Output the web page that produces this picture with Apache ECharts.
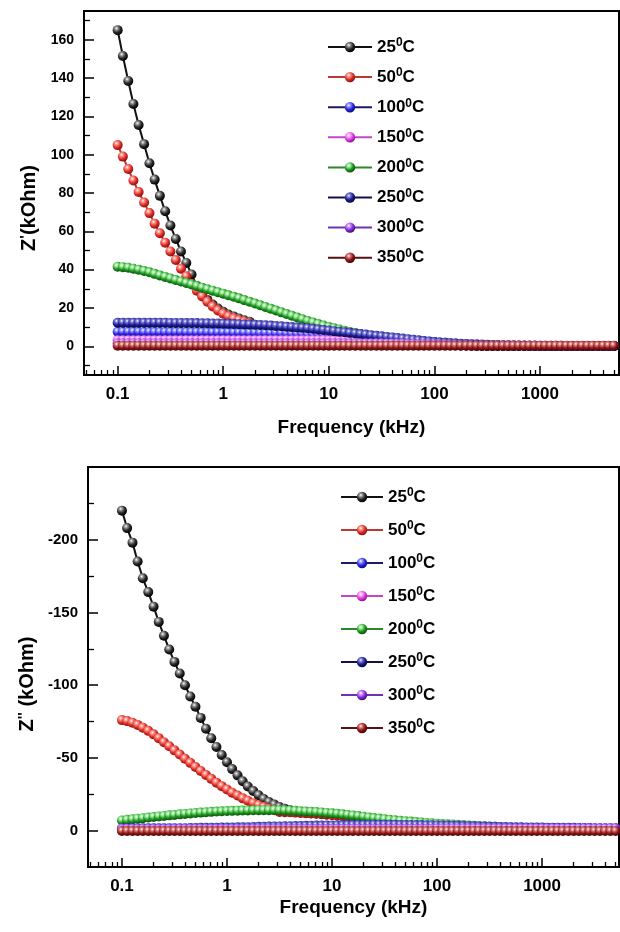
<!DOCTYPE html>
<html>
<head>
<meta charset="utf-8">
<script src="https://cdn.jsdelivr.net/npm/echarts@6/dist/echarts.min.js"></script>
<style>html,body{margin:0;padding:0;background:#fff}#c{width:620px;height:932px}</style>
</head>
<body>
<div id="c"></div>
<script>
// ---------- DATA ----------
const temps = ['25°C','50°C','100°C','150°C','200°C','250°C','300°C','350°C'];
const freq = [
0.1,0.112,0.126,0.141,0.158,0.178,0.2,0.224,0.251,0.282,0.316,0.355,0.398,0.447,0.501,0.562,0.631,0.708,0.794,0.891,
1,1.12,1.26,1.41,1.58,1.78,2,2.24,2.51,2.82,3.16,3.55,3.98,4.47,5.01,5.62,6.31,7.08,7.94,8.91,
10,11.2,12.6,14.1,15.8,17.8,20,22.4,25.1,28.2,31.6,35.5,39.8,44.7,50.1,56.2,63.1,70.8,79.4,89.1,
100,112,126,141,158,178,200,224,251,282,316,355,398,447,501,562,631,708,794,891,
1000,1120,1260,1410,1580,1780,2000,2240,2510,2820,3160,3550,3980,4470,5010];

// Z' (kOhm)
const zr25 = [165,151.5,138.5,126.5,115.5,105.5,95.5,87,78.5,70.5,
63,56,49.5,43.5,37.5,31.5,27.5,24.2,21.8,19.7,
18,16.6,15.5,14.5,13.6,12.8,10.7,10.6,10.5,10.3,
10.1,9.9,9.7,9.5,9.3,9.1,8.9,8.6,8.3,8,
7.7,7.4,7.1,6.8,6.5,6.2,5.9,5.6,5.3,5,
4.7,4.4,4.1,3.8,3.5,3.2,2.9,2.6,2.3,2,
1.7,1.5,1.3,1.1,0.9,0.7,0.5,0.4,0.3,0.2,
0.1,0.1,0.1,0.1,0.1,0.1,0.1,0.1,0.1,0.1,
0.1,0.1,0.1,0.1,0.1,0.1,0.1,0.1,0.1,0.1,0.1,0.1,0.1,0.1,0.1];
const zr50 = [105,99,92.5,86.5,80.5,75,69.5,64,59,54,
49.5,45,40.5,36.5,32.5,29,26,23.2,20.8,18.7,
17,15.6,14.5,13.6,12.8,12,10.4,10.3,10.2,10,
9.8,9.6,9.4,9.2,9,8.8,8.6,8.3,8,7.7,
7.4,7.1,6.8,6.5,6.2,5.9,5.6,5.3,5,4.7,
4.4,4.1,3.8,3.5,3.2,2.9,2.6,2.3,2,1.7,
1.4,1.2,1,0.8,0.6,0.5,0.4,0.3,0.2,0.2,
0.1,0.1,0.1,0.1,0.1,0.1,0.1,0.1,0.1,0.1,
0.1,0.1,0.1,0.1,0.1,0.1,0.1,0.1,0.1,0.1,0.1,0.1,0.1,0.1,0.1];
const zr100 = [7.6,7.6,7.6,7.6,7.6,7.5,7.5,7.5,7.5,7.5,
7.5,7.5,7.5,7.4,7.4,7.4,7.4,7.4,7.3,7.3,
7.3,7.3,7.2,7.2,7.2,7.1,7.1,7,7,6.9,
6.9,6.8,6.7,6.6,6.5,6.4,6.3,6.2,6.1,6,
5.9,5.8,5.6,5.5,5.3,5.2,5,4.8,4.6,4.4,
4.2,4,3.8,3.6,3.4,3.2,3,2.8,2.6,2.4,
2.2,2,1.8,1.6,1.5,1.3,1.2,1.1,1,0.9,
0.8,0.7,0.6,0.55,0.5,0.45,0.4,0.35,0.3,0.3,
0.25,0.25,0.25,0.25,0.25,0.2,0.2,0.2,0.2,0.2,0.2,0.2,0.2,0.2,0.2];
const zr150 = [3.2,3.2,3.2,3.2,3.2,3.2,3.2,3.2,3.2,3.2,
3.2,3.2,3.2,3.2,3.2,3.2,3.2,3.2,3.2,3.2,
3.2,3.2,3.2,3.2,3.2,3.2,3.2,3.2,3.2,3.2,
3.2,3.2,3.2,3.2,3.2,3.2,3.2,3.2,3.2,3.2,
3.1,3.1,3,3,2.9,2.9,2.8,2.7,2.6,2.5,
2.4,2.3,2.2,2.1,2,1.9,1.8,1.7,1.6,1.5,
1.4,1.3,1.2,1.1,1,0.9,0.8,0.7,0.6,0.55,
0.5,0.45,0.4,0.35,0.3,0.3,0.25,0.25,0.2,0.2,
0.2,0.2,0.2,0.2,0.2,0.2,0.2,0.2,0.2,0.2,0.2,0.2,0.2,0.2,0.2];
const zr200 = [41.5,41.3,41,40.5,40,39.3,38.6,37.8,37,36.2,
35.4,34.6,33.8,33,32.2,31.4,30.6,29.8,29,28.2,
27.4,26.6,25.8,25,24.1,23.2,22.3,21.4,20.5,19.6,
18.7,17.7,16.8,15.9,15,14.1,13.2,12.4,11.6,10.8,
10.1,9.4,8.7,8.1,7.5,6.9,6.3,5.8,5.3,4.9,
4.5,4.1,3.8,3.5,3.2,2.9,2.6,2.3,2.1,1.9,
1.7,1.5,1.3,1.1,1,0.9,0.8,0.7,0.6,0.5,
0.45,0.4,0.35,0.3,0.3,0.25,0.25,0.25,0.25,0.25,
0.2,0.2,0.2,0.2,0.2,0.2,0.2,0.2,0.2,0.2,0.2,0.2,0.2,0.2,0.2];
const zr250 = [12.3,12.3,12.3,12.3,12.3,12.3,12.3,12.3,12.3,12.3,
12.2,12.2,12.2,12.1,12.1,12.1,12,12,11.9,11.9,
11.8,11.7,11.6,11.5,11.4,11.3,11.2,11.1,11,10.8,
10.6,10.4,10.2,10,9.8,9.6,9.4,9.1,8.8,8.5,
8.2,7.9,7.6,7.3,7,6.7,6.4,6.1,5.8,5.5,
5.2,4.9,4.6,4.3,4,3.7,3.4,3.1,2.8,2.5,
2.2,2,1.8,1.6,1.4,1.2,1,0.9,0.8,0.7,
0.6,0.55,0.5,0.45,0.4,0.35,0.3,0.3,0.25,0.25,
0.2,0.2,0.2,0.2,0.2,0.2,0.2,0.2,0.2,0.2,0.2,0.2,0.2,0.2,0.2];
const zr300 = [1.6,1.6,1.6,1.6,1.6,1.6,1.6,1.6,1.6,1.6,
1.6,1.6,1.6,1.6,1.6,1.6,1.6,1.6,1.6,1.6,
1.6,1.6,1.6,1.6,1.6,1.6,1.6,1.6,1.6,1.6,
1.6,1.6,1.6,1.6,1.6,1.6,1.6,1.6,1.6,1.6,
1.6,1.6,1.6,1.6,1.6,1.6,1.6,1.6,1.6,1.6,
1.6,1.5,1.5,1.4,1.4,1.3,1.3,1.2,1.1,1,
0.9,0.8,0.7,0.6,0.5,0.45,0.4,0.35,0.3,0.3,
0.25,0.25,0.25,0.25,0.25,0.25,0.25,0.25,0.25,0.25,
0.2,0.2,0.2,0.2,0.2,0.2,0.2,0.2,0.2,0.2,0.2,0.2,0.2,0.2,0.2];
const zr350 = [0.3,0.3,0.3,0.3,0.3,0.3,0.3,0.3,0.3,0.3,
0.3,0.3,0.3,0.3,0.3,0.3,0.3,0.3,0.3,0.3,
0.3,0.3,0.3,0.3,0.3,0.3,0.3,0.3,0.3,0.3,
0.3,0.3,0.3,0.3,0.3,0.3,0.3,0.3,0.3,0.3,
0.3,0.3,0.3,0.3,0.3,0.3,0.3,0.3,0.3,0.3,
0.3,0.3,0.3,0.3,0.3,0.3,0.3,0.3,0.3,0.3,
0.3,0.3,0.3,0.3,0.3,0.3,0.3,0.3,0.3,0.3,
0.3,0.3,0.3,0.3,0.3,0.3,0.3,0.3,0.3,0.3,
0.3,0.3,0.3,0.3,0.3,0.3,0.3,0.3,0.3,0.3,0.3,0.3,0.3,0.3,0.3];

// Z'' (kOhm)
const zi25 = [-220,-208,-198,-185,-173.5,-164,-154,-143.5,-134,-124.5,
-116,-108,-100,-92.2,-85.2,-77.5,-70,-63.5,-57.5,-52,
-47,-42.3,-38,-34,-30.4,-27.2,-24.3,-21.8,-19.7,-17.9,
-16.3,-15,-14,-13.3,-12.7,-12.2,-12,-11.8,-11.5,-11.2,
-10.9,-10.6,-10.2,-9.8,-9.4,-9,-8.6,-8.1,-7.7,-7.3,
-6.9,-6.5,-6.1,-5.8,-5.5,-5.2,-4.9,-4.6,-4.3,-4,
-3.8,-3.6,-3.4,-3.2,-3,-2.8,-2.6,-2.4,-2.2,-2,
-1.9,-1.8,-1.7,-1.6,-1.5,-1.4,-1.3,-1.2,-1.1,-1,
-1,-0.9,-0.9,-0.8,-0.8,-0.8,-0.7,-0.7,-0.7,-0.6,-0.6,-0.6,-0.5,-0.5,-0.5];
const zi50 = [-76,-75.3,-74.2,-72.7,-70.8,-68.6,-66.2,-63.6,-60.8,-58,
-55.2,-52.3,-49.4,-46.6,-43.8,-41,-38.3,-35.6,-33,-30.6,
-28.3,-26.1,-24.1,-22.2,-20.5,-18.9,-17.5,-16.2,-15.1,-14.2,
-12.8,-12.7,-12.6,-12.4,-12.2,-12,-11.8,-11.6,-11.3,-11,
-10.7,-10.4,-10,-9.6,-9.2,-8.8,-8.4,-7.9,-7.5,-7.1,
-6.7,-6.3,-5.9,-5.6,-5.3,-5,-4.7,-4.4,-4.1,-3.8,
-3.6,-3.6,-3.4,-3.2,-3,-2.8,-2.6,-2.4,-2.2,-2,
-1.9,-1.8,-1.7,-1.6,-1.5,-1.4,-1.3,-1.2,-1.1,-1,
-1,-0.9,-0.9,-0.8,-0.8,-0.8,-0.7,-0.7,-0.7,-0.6,-0.6,-0.6,-0.5,-0.5,-0.5];
const zi100 = [-0.8,-0.8,-0.8,-0.8,-0.8,-0.8,-0.8,-0.8,-0.8,-0.8,
-0.9,-0.9,-0.9,-0.9,-0.9,-0.9,-0.9,-0.9,-0.9,-0.9,
-1,-1,-1.1,-1.1,-1.2,-1.2,-1.3,-1.3,-1.4,-1.4,
-1.5,-1.6,-1.7,-1.8,-1.9,-2,-2.1,-2.2,-2.3,-2.4,
-2.5,-2.6,-2.7,-2.8,-2.9,-3,-3.1,-3.2,-3.3,-3.4,
-3.5,-3.5,-3.6,-3.6,-3.6,-3.6,-3.6,-3.5,-3.5,-3.4,
-3.3,-3.2,-3.1,-3,-2.9,-2.8,-2.7,-2.6,-2.5,-2.4,
-2.3,-2.2,-2.1,-2,-2,-1.9,-1.9,-1.8,-1.8,-1.7,
-1.7,-1.6,-1.6,-1.6,-1.5,-1.5,-1.5,-1.4,-1.4,-1.4,-1.3,-1.3,-1.3,-1.2,-1.2];
const zi150 = [-0.6,-0.6,-0.6,-0.6,-0.6,-0.6,-0.6,-0.6,-0.6,-0.6,
-0.6,-0.6,-0.6,-0.6,-0.6,-0.6,-0.6,-0.6,-0.6,-0.6,
-0.6,-0.6,-0.6,-0.6,-0.6,-0.6,-0.6,-0.6,-0.6,-0.6,
-0.7,-0.7,-0.7,-0.7,-0.7,-0.7,-0.7,-0.7,-0.7,-0.7,
-0.8,-0.8,-0.9,-0.9,-1,-1,-1.1,-1.1,-1.2,-1.2,
-1.3,-1.3,-1.3,-1.3,-1.3,-1.3,-1.3,-1.3,-1.3,-1.3,
-1.4,-1.4,-1.4,-1.4,-1.4,-1.4,-1.4,-1.4,-1.4,-1.4,
-1.4,-1.4,-1.4,-1.4,-1.4,-1.4,-1.4,-1.4,-1.4,-1.4,
-1.3,-1.3,-1.3,-1.3,-1.3,-1.3,-1.3,-1.3,-1.3,-1.3,-1.3,-1.3,-1.3,-1.3,-1.3];
const zi200 = [-7,-7.4,-7.8,-8.2,-8.6,-9,-9.4,-9.8,-10.1,-10.5,
-10.8,-11.2,-11.5,-11.8,-12.1,-12.4,-12.6,-12.9,-13.1,-13.3,
-13.5,-13.6,-13.7,-13.8,-13.9,-14,-14.1,-14.1,-14.1,-14.1,
-14,-13.9,-13.8,-13.6,-13.4,-13.2,-13,-12.8,-12.5,-12.2,
-11.9,-11.6,-11.2,-10.8,-10.4,-10,-9.6,-9.1,-8.7,-8.3,
-7.9,-7.5,-7.1,-6.8,-6.5,-6.2,-5.9,-5.6,-5.3,-5,
-4.8,-4.6,-4.4,-4.2,-4,-3.8,-3.6,-3.4,-3.2,-3,
-2.8,-2.6,-2.4,-2.2,-2.1,-2,-1.9,-1.8,-1.7,-1.6,
-1.5,-1.4,-1.4,-1.3,-1.3,-1.2,-1.2,-1.1,-1.1,-1,-1,-1,-0.9,-0.9,-0.9];
const zi250 = [-1.6,-1.6,-1.6,-1.6,-1.6,-1.6,-1.6,-1.6,-1.6,-1.6,
-1.6,-1.7,-1.7,-1.8,-1.8,-1.9,-1.9,-2,-2,-2.1,
-2.1,-2.2,-2.3,-2.3,-2.4,-2.5,-2.6,-2.7,-2.8,-2.9,
-2.9,-3,-3.1,-3.2,-3.2,-3.3,-3.4,-3.5,-3.5,-3.6,
-3.6,-3.7,-3.7,-3.8,-3.8,-3.9,-3.9,-3.9,-4,-4,
-4,-4,-4,-3.9,-3.9,-3.9,-3.8,-3.8,-3.7,-3.7,
-3.6,-3.5,-3.5,-3.4,-3.3,-3.2,-3.1,-3,-2.9,-2.8,
-2.7,-2.6,-2.5,-2.5,-2.4,-2.3,-2.3,-2.2,-2.2,-2.1,
-2.1,-2,-2,-2,-1.9,-1.9,-1.9,-1.8,-1.8,-1.8,-1.7,-1.7,-1.7,-1.7,-1.6];
const zi300 = [-1.2,-1.2,-1.2,-1.2,-1.2,-1.2,-1.2,-1.2,-1.2,-1.2,
-1.2,-1.2,-1.2,-1.2,-1.2,-1.2,-1.2,-1.2,-1.2,-1.2,
-1.2,-1.2,-1.2,-1.2,-1.2,-1.2,-1.2,-1.2,-1.2,-1.2,
-1.2,-1.2,-1.2,-1.2,-1.2,-1.2,-1.2,-1.2,-1.2,-1.2,
-1.3,-1.3,-1.3,-1.3,-1.3,-1.3,-1.3,-1.3,-1.3,-1.3,
-1.3,-1.3,-1.3,-1.3,-1.3,-1.3,-1.3,-1.3,-1.3,-1.3,
-1.5,-1.5,-1.5,-1.5,-1.5,-1.5,-1.5,-1.5,-1.5,-1.5,
-1.5,-1.5,-1.5,-1.5,-1.5,-1.5,-1.5,-1.5,-1.5,-1.5,
-1.5,-1.5,-1.5,-1.5,-1.5,-1.5,-1.5,-1.5,-1.5,-1.5,-1.5,-1.5,-1.5,-1.5,-1.5];
const zi350 = [0.3,0.3,0.3,0.3,0.3,0.3,0.3,0.3,0.3,0.3,
0.3,0.3,0.3,0.3,0.3,0.3,0.3,0.3,0.3,0.3,
0.3,0.3,0.3,0.3,0.3,0.3,0.3,0.3,0.3,0.3,
0.3,0.3,0.3,0.3,0.3,0.3,0.3,0.3,0.3,0.3,
0.3,0.3,0.3,0.3,0.3,0.3,0.3,0.3,0.3,0.3,
0.3,0.3,0.3,0.3,0.3,0.3,0.3,0.3,0.3,0.3,
0.3,0.3,0.3,0.3,0.3,0.3,0.3,0.3,0.3,0.3,
0.3,0.3,0.3,0.3,0.3,0.3,0.3,0.3,0.3,0.3,
0.3,0.3,0.3,0.3,0.3,0.3,0.3,0.3,0.3,0.3,0.3,0.3,0.3,0.3,0.3];

const zReal = [zr25, zr50, zr100, zr150, zr200, zr250, zr300, zr350];
const zImag = [zi25, zi50, zi100, zi150, zi200, zi250, zi300, zi350];

// ---------- STYLE ----------
const FONT = '"Liberation Sans", Arial, Helvetica, sans-serif';
const palette = [
  {line:'#111111', light:'#9a9a9a', base:'#2a2a2a', dark:'#000000'},
  {line:'#b83a30', light:'#ff9a90', base:'#e0302a', dark:'#8a0f0a'},
  {line:'#1a1a66', light:'#9a9aff', base:'#2a2ae6', dark:'#0a0a80'},
  {line:'#c048c8', light:'#ffb0ff', base:'#e040e6', dark:'#901090'},
  {line:'#2a8a2a', light:'#a0f0a0', base:'#229922', dark:'#0a500a'},
  {line:'#10104a', light:'#8080d8', base:'#1e1e96', dark:'#06063a'},
  {line:'#7030b0', light:'#d0a0ff', base:'#8a2be2', dark:'#40106a'},
  {line:'#5a1010', light:'#e08080', base:'#901818', dark:'#400404'}
];
function sphere(p) {
  return new echarts.graphic.RadialGradient(0.38, 0.32, 0.68, [
    {offset: 0, color: '#ffffff'},
    {offset: 0.22, color: p.light},
    {offset: 0.6, color: p.base},
    {offset: 1, color: p.dark}
  ]);
}
const labelFmt = v => String(+Number(v).toPrecision(6));
const legendFmt = name => '{a|' + name.replace('°C','') + '}{s|0}{a|C}';
const legendRich = {
  a: {fontSize: 17, fontWeight: 'bold', color: '#000', lineHeight: 20, fontFamily: FONT},
  s: {fontSize: 12, fontWeight: 'bold', color: '#000', lineHeight: 8, verticalAlign: 'top', fontFamily: FONT}
};
const nameRich = {
  a: {fontSize: 20, fontWeight: 'bold', color: '#000', lineHeight: 22, fontFamily: FONT},
  s: {fontSize: 15, fontWeight: 'bold', color: '#000', lineHeight: 10, verticalAlign: 'top', fontFamily: FONT}
};

function xAxis(g, min, max, gap) {
  return {
    type: 'log', logBase: 10, gridIndex: g, min: min, max: max,
    axisLine: {show: true, onZero: false, lineStyle: {color: '#000', width: 2}},
    axisTick: {show: true, inside: true, length: 9, lineStyle: {color: '#000', width: 1.5}},
    minorTick: {show: true, splitNumber: 9, length: 5, lineStyle: {color: '#000', width: 1.3}},
    splitLine: {show: false}, minorSplitLine: {show: false},
    axisLabel: {margin: 11, color: '#000', fontSize: 17, fontWeight: 'bold', fontFamily: FONT,
      showMinLabel: false, showMaxLabel: false, formatter: labelFmt},
    name: 'Frequency (kHz)', nameLocation: 'middle', nameGap: gap,
    nameTextStyle: {fontSize: 19, fontWeight: 'bold', color: '#000', fontFamily: FONT}
  };
}
function yAxisBase(g, fs) {
  return {
    type: 'value', gridIndex: g,
    axisLine: {show: true, onZero: false, lineStyle: {color: '#000', width: 2}},
    axisTick: {show: true, inside: true, length: 10, lineStyle: {color: '#000', width: 1.5}},
    minorTick: {show: true, splitNumber: 2, length: 6, lineStyle: {color: '#000', width: 1.3}},
    splitLine: {show: false},
    axisLabel: {margin: 10, color: '#000', fontSize: fs, fontWeight: 'bold', fontFamily: FONT,
      showMinLabel: false, showMaxLabel: false},
    nameLocation: 'middle'
  };
}

const yTop = Object.assign(yAxisBase(0, 14), {
  min: -15, max: 175, splitNumber: 10,
  name: "{a|Z}{s|'}{a|(kOhm)}", nameGap: 42,
  nameTextStyle: {rich: nameRich, padding: [0, 30, 0, 0]}
});
const yBot = Object.assign(yAxisBase(1, 15), {
  min: -250, max: 25, interval: 50, inverse: true,
  name: "{a|Z}{s|''}{a| (kOhm)}", nameGap: 50,
  nameTextStyle: {rich: nameRich, padding: [0, 34, 0, 0]}
});

const series = [];
temps.forEach((t, k) => {
  const p = palette[k];
  const common = {
    name: t, type: 'line', symbol: 'circle', symbolSize: 10,
    lineStyle: {color: p.line, width: 2},
    itemStyle: {color: sphere(p), borderWidth: 0},
    emphasis: {disabled: true}, animation: false
  };
  series.push(Object.assign({}, common, {
    xAxisIndex: 0, yAxisIndex: 0,
    data: freq.map((f, i) => [f, zReal[k][i]])
  }));
  series.push(Object.assign({}, common, {
    xAxisIndex: 1, yAxisIndex: 1,
    data: freq.map((f, i) => [f, zImag[k][i]])
  }));
});

const chart = echarts.init(document.getElementById('c'), null, {renderer: 'canvas'});
chart.setOption({
  backgroundColor: '#fff',
  animation: false,
  grid: [
    {left: 84, top: 11, right: 1, height: 364, show: true, borderColor: '#000', borderWidth: 2},
    {left: 88, top: 467, right: 1, height: 400, show: true, borderColor: '#000', borderWidth: 2}
  ],
  legend: [
    {orient: 'vertical', left: 327, top: 37, padding: 0, itemWidth: 44, itemHeight: 13, itemGap: 11.6,
      data: temps, formatter: legendFmt, textStyle: {rich: legendRich}, selectedMode: false},
    {orient: 'vertical', left: 340, top: 487, padding: 0, itemWidth: 42, itemHeight: 13, itemGap: 14.5,
      data: temps, formatter: legendFmt, textStyle: {rich: legendRich}, selectedMode: false}
  ],
  xAxis: [xAxis(0, 0.048, 5600, 43), xAxis(1, 0.0475, 5400, 31)],
  yAxis: [yTop, yBot],
  series: series
});
</script>
</body>
</html>
